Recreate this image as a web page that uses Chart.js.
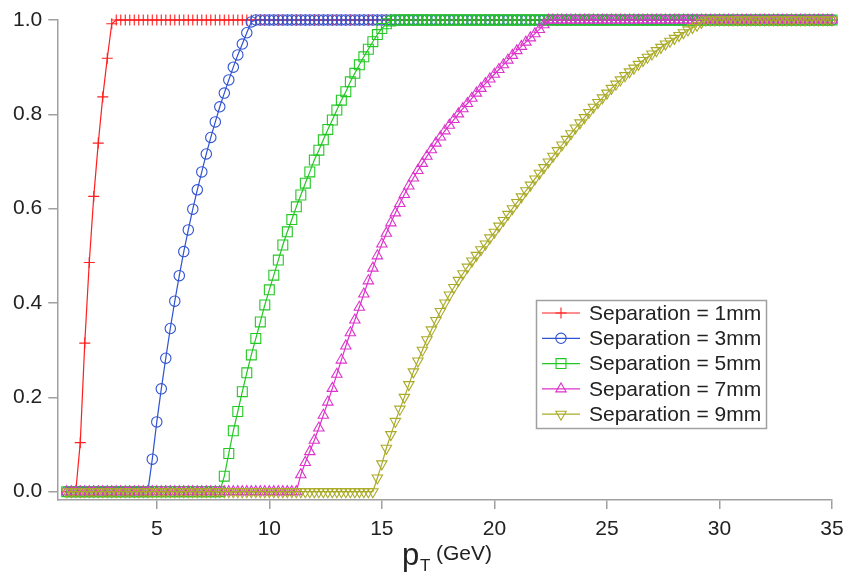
<!DOCTYPE html>
<html>
<head>
<meta charset="utf-8">
<script src="https://cdn.jsdelivr.net/npm/chart.js@4.4.1/dist/chart.umd.min.js"></script>
<style>
  html, body { margin: 0; padding: 0; background: #fff; }
  #wrap { width: 844px; height: 573px; }
</style>
</head>
<body>
<div id="wrap"><canvas id="chart" width="844" height="573"></canvas></div>
<script>
// pT sample points (GeV)
const pt = [
  1.0, 1.2, 1.4, 1.6, 1.8, 2.0, 2.2, 2.4, 2.6, 2.8,
  3.0, 3.2, 3.4, 3.6, 3.8, 4.0, 4.2, 4.4, 4.6, 4.8,
  5.0, 5.2, 5.4, 5.6, 5.8, 6.0, 6.2, 6.4, 6.6, 6.8,
  7.0, 7.2, 7.4, 7.6, 7.8, 8.0, 8.2, 8.4, 8.6, 8.8,
  9.0, 9.2, 9.4, 9.6, 9.8, 10.0, 10.2, 10.4, 10.6, 10.8,
  11.0, 11.2, 11.4, 11.6, 11.8, 12.0, 12.2, 12.4, 12.6, 12.8,
  13.0, 13.2, 13.4, 13.6, 13.8, 14.0, 14.2, 14.4, 14.6, 14.8,
  15.0, 15.2, 15.4, 15.6, 15.8, 16.0, 16.2, 16.4, 16.6, 16.8,
  17.0, 17.2, 17.4, 17.6, 17.8, 18.0, 18.2, 18.4, 18.6, 18.8,
  19.0, 19.2, 19.4, 19.6, 19.8, 20.0, 20.2, 20.4, 20.6, 20.8,
  21.0, 21.2, 21.4, 21.6, 21.8, 22.0, 22.2, 22.4, 22.6, 22.8,
  23.0, 23.2, 23.4, 23.6, 23.8, 24.0, 24.2, 24.4, 24.6, 24.8,
  25.0, 25.2, 25.4, 25.6, 25.8, 26.0, 26.2, 26.4, 26.6, 26.8,
  27.0, 27.2, 27.4, 27.6, 27.8, 28.0, 28.2, 28.4, 28.6, 28.8,
  29.0, 29.2, 29.4, 29.6, 29.8, 30.0, 30.2, 30.4, 30.6, 30.8,
  31.0, 31.2, 31.4, 31.6, 31.8, 32.0, 32.2, 32.4, 32.6, 32.8,
  33.0, 33.2, 33.4, 33.6, 33.8, 34.0, 34.2, 34.4, 34.6, 34.8,
  35.0
];

const sep1mm = [
  0, 0, 0, 0.104, 0.315, 0.486, 0.626, 0.739, 0.837, 0.919,
  0.992, 1, 1, 1, 1, 1, 1, 1, 1, 1,
  1, 1, 1, 1, 1, 1, 1, 1, 1, 1,
  1, 1, 1, 1, 1, 1, 1, 1, 1, 1,
  1, 1, 1, 1, 1, 1, 1, 1, 1, 1,
  1, 1, 1, 1, 1, 1, 1, 1, 1, 1,
  1, 1, 1, 1, 1, 1, 1, 1, 1, 1,
  1, 1, 1, 1, 1, 1, 1, 1, 1, 1,
  1, 1, 1, 1, 1, 1, 1, 1, 1, 1,
  1, 1, 1, 1, 1, 1, 1, 1, 1, 1,
  1, 1, 1, 1, 1, 1, 1, 1, 1, 1,
  1, 1, 1, 1, 1, 1, 1, 1, 1, 1,
  1, 1, 1, 1, 1, 1, 1, 1, 1, 1,
  1, 1, 1, 1, 1, 1, 1, 1, 1, 1,
  1, 1, 1, 1, 1, 1, 1, 1, 1, 1,
  1, 1, 1, 1, 1, 1, 1, 1, 1, 1,
  1, 1, 1, 1, 1, 1, 1, 1, 1, 1,
  1
];

const sep3mm = [
  0, 0, 0, 0, 0, 0, 0, 0, 0, 0,
  0, 0, 0, 0, 0, 0, 0, 0, 0, 0.069,
  0.148, 0.218, 0.283, 0.346, 0.404, 0.458, 0.509, 0.555, 0.599, 0.640,
  0.678, 0.716, 0.751, 0.784, 0.816, 0.845, 0.873, 0.900, 0.926, 0.949,
  0.973, 0.996, 1, 1, 1, 1, 1, 1, 1, 1,
  1, 1, 1, 1, 1, 1, 1, 1, 1, 1,
  1, 1, 1, 1, 1, 1, 1, 1, 1, 1,
  1, 1, 1, 1, 1, 1, 1, 1, 1, 1,
  1, 1, 1, 1, 1, 1, 1, 1, 1, 1,
  1, 1, 1, 1, 1, 1, 1, 1, 1, 1,
  1, 1, 1, 1, 1, 1, 1, 1, 1, 1,
  1, 1, 1, 1, 1, 1, 1, 1, 1, 1,
  1, 1, 1, 1, 1, 1, 1, 1, 1, 1,
  1, 1, 1, 1, 1, 1, 1, 1, 1, 1,
  1, 1, 1, 1, 1, 1, 1, 1, 1, 1,
  1, 1, 1, 1, 1, 1, 1, 1, 1, 1,
  1, 1, 1, 1, 1, 1, 1, 1, 1, 1,
  1
];

const sep5mm = [
  0, 0, 0, 0, 0, 0, 0, 0, 0, 0,
  0, 0, 0, 0, 0, 0, 0, 0, 0, 0,
  0, 0, 0, 0, 0, 0, 0, 0, 0, 0,
  0, 0, 0, 0, 0, 0.033, 0.081, 0.129, 0.170, 0.212,
  0.252, 0.290, 0.325, 0.360, 0.396, 0.428, 0.459, 0.491, 0.523, 0.551,
  0.577, 0.604, 0.629, 0.654, 0.678, 0.703, 0.724, 0.746, 0.768, 0.788,
  0.809, 0.830, 0.848, 0.869, 0.887, 0.905, 0.922, 0.938, 0.954, 0.969,
  0.982, 0.992, 0.998, 1, 1, 1, 1, 1, 1, 1,
  1, 1, 1, 1, 1, 1, 1, 1, 1, 1,
  1, 1, 1, 1, 1, 1, 1, 1, 1, 1,
  1, 1, 1, 1, 1, 1, 1, 1, 1, 1,
  1, 1, 1, 1, 1, 1, 1, 1, 1, 1,
  1, 1, 1, 1, 1, 1, 1, 1, 1, 1,
  1, 1, 1, 1, 1, 1, 1, 1, 1, 1,
  1, 1, 1, 1, 1, 1, 1, 1, 1, 1,
  1, 1, 1, 1, 1, 1, 1, 1, 1, 1,
  1, 1, 1, 1, 1, 1, 1, 1, 1, 1,
  1
];

const sep7mm = [
  0, 0, 0, 0, 0, 0, 0, 0, 0, 0,
  0, 0, 0, 0, 0, 0, 0, 0, 0, 0,
  0, 0, 0, 0, 0, 0, 0, 0, 0, 0,
  0, 0, 0, 0, 0, 0, 0, 0, 0, 0,
  0, 0, 0, 0, 0, 0, 0, 0, 0, 0,
  0, 0, 0.036, 0.062, 0.085, 0.109, 0.135, 0.162, 0.190, 0.219,
  0.249, 0.279, 0.309, 0.337, 0.364, 0.391, 0.419, 0.447, 0.474, 0.500,
  0.525, 0.548, 0.570, 0.591, 0.611, 0.630, 0.648, 0.665, 0.681, 0.696,
  0.711, 0.725, 0.739, 0.752, 0.765, 0.777, 0.789, 0.801, 0.812, 0.823,
  0.834, 0.845, 0.855, 0.865, 0.875, 0.885, 0.895, 0.905, 0.915, 0.925,
  0.935, 0.944, 0.953, 0.962, 0.971, 0.980, 0.990, 1, 1, 1,
  1, 1, 1, 1, 1, 1, 1, 1, 1, 1,
  1, 1, 1, 1, 1, 1, 1, 1, 1, 1,
  1, 1, 1, 1, 1, 1, 1, 1, 1, 1,
  1, 1, 1, 1, 1, 1, 1, 1, 1, 1,
  1, 1, 1, 1, 1, 1, 1, 1, 1, 1,
  1, 1, 1, 1, 1, 1, 1, 1, 1, 1,
  1
];

const sep9mm = [
  0, 0, 0, 0, 0, 0, 0, 0, 0, 0,
  0, 0, 0, 0, 0, 0, 0, 0, 0, 0,
  0, 0, 0, 0, 0, 0, 0, 0, 0, 0,
  0, 0, 0, 0, 0, 0, 0, 0, 0, 0,
  0, 0, 0, 0, 0, 0, 0, 0, 0, 0,
  0, 0, 0, 0, 0, 0, 0, 0, 0, 0,
  0, 0, 0, 0, 0, 0, 0, 0, 0, 0.029,
  0.059, 0.092, 0.121, 0.149, 0.175, 0.200, 0.227, 0.254, 0.277, 0.300,
  0.322, 0.343, 0.363, 0.382, 0.400, 0.417, 0.433, 0.448, 0.462, 0.476,
  0.489, 0.501, 0.513, 0.525, 0.538, 0.550, 0.563, 0.575, 0.588, 0.600,
  0.613, 0.625, 0.638, 0.650, 0.663, 0.675, 0.687, 0.699, 0.711, 0.723,
  0.735, 0.747, 0.759, 0.771, 0.782, 0.793, 0.804, 0.815, 0.825, 0.835,
  0.845, 0.855, 0.864, 0.873, 0.882, 0.890, 0.898, 0.906, 0.914, 0.921,
  0.928, 0.935, 0.942, 0.949, 0.955, 0.961, 0.967, 0.973, 0.979, 0.984,
  0.989, 0.995, 1, 1, 1, 1, 1, 1, 1, 1,
  1, 1, 1, 1, 1, 1, 1, 1, 1, 1,
  1, 1, 1, 1, 1, 1, 1, 1, 1, 1,
  1
];

const seriesLabels = ['Separation = 1mm', 'Separation = 3mm', 'Separation = 5mm', 'Separation = 7mm', 'Separation = 9mm'];
const xTicks = [5, 10, 15, 20, 25, 30, 35];
const yTicks = [0, 0.2, 0.4, 0.6, 0.8, 1.0];

const FONT = '"Liberation Sans", Arial, sans-serif';
const AXIS_GREY = '#a0a0a0';

// marker look for each series (Igor-like open markers)
const styles = [
  { color: '#ff1f1f', pointStyle: 'cross', radius: 5.5, rotation: 0 },
  { color: '#2f52d2', pointStyle: 'circle', radius: 5.2, rotation: 0 },
  { color: '#22c822', pointStyle: 'rect', radius: 7, rotation: 0 },
  { color: '#dd33cc', pointStyle: 'triangle', radius: 6, rotation: 0 },
  { color: '#aaaa28', pointStyle: 'triangle', radius: 6, rotation: 180 }
];

const allSeries = [sep1mm, sep3mm, sep5mm, sep7mm, sep9mm];

const datasets = allSeries.map((ys, i) => ({
  label: seriesLabels[i],
  data: pt.map((x, j) => ({ x: x, y: ys[j] })),
  borderColor: styles[i].color,
  borderWidth: 1.2,
  pointStyle: styles[i].pointStyle,
  pointRadius: styles[i].radius,
  pointRotation: styles[i].rotation,
  pointBorderColor: styles[i].color,
  pointBackgroundColor: 'rgba(0,0,0,0)',
  pointBorderWidth: 1.1,
  tension: 0,
  clip: false,
  order: allSeries.length - i   // later series drawn on top
}));

// x axis title with subscript + legend box inside the plot
const overlay = {
  id: 'overlay',
  afterDraw(chart) {
    const ctx = chart.ctx;
    ctx.save();
    ctx.fillStyle = '#222';
    ctx.textBaseline = 'alphabetic';
    ctx.textAlign = 'left';
    ctx.font = '31px ' + FONT;
    ctx.fillText('p', 402, 565);
    ctx.font = '17px ' + FONT;
    ctx.fillText('T', 420, 571);
    ctx.font = '21px ' + FONT;
    ctx.fillText('(GeV)', 436, 560);

    // legend
    const bx = 536.5, by = 300.5, bw = 230, bh = 128;
    ctx.fillStyle = '#fff';
    ctx.fillRect(bx, by, bw, bh);
    ctx.strokeStyle = AXIS_GREY;
    ctx.lineWidth = 1.5;
    ctx.strokeRect(bx, by, bw, bh);
    ctx.font = '21px ' + FONT;
    ctx.textBaseline = 'middle';
    chart.data.datasets.forEach((ds, i) => {
      const y = 313 + i * 25.3;
      ctx.strokeStyle = ds.borderColor;
      ctx.lineWidth = 1.2;
      ctx.beginPath();
      ctx.moveTo(542, y);
      ctx.lineTo(580, y);
      ctx.stroke();
      ctx.fillStyle = 'rgba(0,0,0,0)';
      ctx.lineWidth = 1.1;
      Chart.helpers.drawPoint(ctx, {
        pointStyle: ds.pointStyle,
        radius: ds.pointRadius,
        rotation: ds.pointRotation,
        borderWidth: 1.1
      }, 561, y);
      ctx.fillStyle = '#222';
      ctx.fillText(ds.label, 589, y + 1);
    });
    ctx.restore();
  }
};

new Chart(document.getElementById('chart'), {
  type: 'line',
  data: { datasets: datasets },
  options: {
    responsive: false,
    animation: false,
    devicePixelRatio: 1,
    layout: { autoPadding: false, padding: { top: 20, right: 12, left: 0, bottom: 0 } },
    plugins: { legend: { display: false }, tooltip: { enabled: false } },
    scales: {
      x: {
        type: 'linear',
        min: 0.58,
        max: 35,
        afterBuildTicks: s => { s.ticks = xTicks.map(v => ({ value: v })); },
        afterFit: s => { s.height = 73; s.paddingLeft = 0; s.paddingRight = 0; },
        grid: { drawOnChartArea: false, drawTicks: true, tickLength: 9, color: AXIS_GREY, lineWidth: 1.5 },
        border: { display: true, color: AXIS_GREY, width: 1.5 },
        ticks: {
          color: '#222', font: { family: FONT, size: 21 }, padding: 8,
          maxRotation: 0, autoSkip: false, callback: v => String(v)
        }
      },
      y: {
        min: -0.0176,
        max: 1,
        afterBuildTicks: s => { s.ticks = yTicks.map(v => ({ value: v })); },
        afterFit: s => { s.width = 57.3; s.paddingTop = 0; s.paddingBottom = 0; },
        grid: { drawOnChartArea: false, drawTicks: true, tickLength: 9, color: AXIS_GREY, lineWidth: 1.5 },
        border: { display: true, color: AXIS_GREY, width: 1.5 },
        ticks: {
          color: '#222', font: { family: FONT, size: 21 }, padding: 6,
          autoSkip: false, callback: v => Number(v).toFixed(1)
        }
      }
    }
  },
  plugins: [overlay]
});
</script>
</body>
</html>
